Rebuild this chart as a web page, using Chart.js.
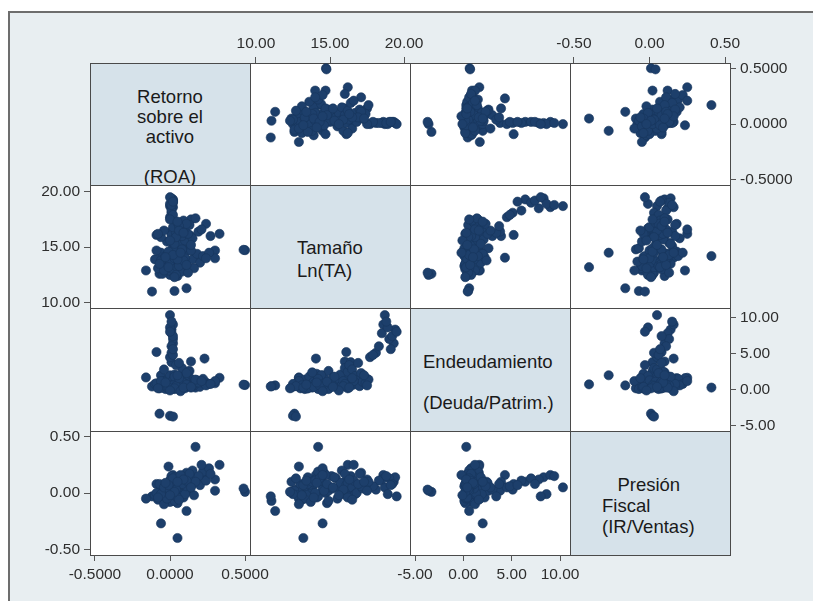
<!DOCTYPE html>
<html>
<head>
<meta charset="utf-8">
<script src="https://cdn.jsdelivr.net/npm/chart.js@4/dist/chart.umd.min.js"></script>
<style>
  body { margin: 0; width: 813px; height: 601px; overflow: hidden; background: #fff;
         font-family: "Liberation Sans", Arial, sans-serif; }
  #frame { position: absolute; left: 8px; top: 11px; width: 900px; height: 700px;
           border: 2px solid #6d6d6d; background: #e8eef1; }
  .cell { position: absolute; box-sizing: border-box; border: 1px solid #4a4a4a; background: #fff; }
  .diag { background: #d6e2ea; }
  .lbl { position: absolute; font-size: 18.5px; line-height: 20px; color: #1a1a1a; white-space: pre; }
  .wrap { position: absolute; }
</style>
</head>
<body>
<div id="frame"></div>
<script>
// one observation per firm, same order in every array
// outliers (24), large firms (14), main cluster (82)
const roa = [
  0.50, 0.49, 0.05, -0.06, 0.17, 0.11, 0.03, -0.12, -0.07, 0.00, 0.02, -0.16, 0.33, 0.30, 0.30, 0.23, 0.24, 0.14, -0.09, -0.01, -0.10, 0.14, 0.01, 0.00,
  0.00, 0.01, 0.02, 0.01, 0.02, 0.01, 0.02, 0.00, 0.02, 0.01, 0.02, 0.00, 0.01, 0.02,
  0.05, -0.05, 0.08, 0.02, -0.08, 0.12, 0.04, -0.02, 0.10, 0.06, 0.00, -0.06, 0.15, 0.03, 0.09, -0.03, 0.07, 0.18, 0.01, 0.11, -0.09, 0.05, 0.13, 0.02, 0.08, 0.20, -0.04, 0.06, 0.10, 0.00, 0.14, 0.04, 0.22, -0.07, 0.07, 0.16, 0.03, 0.09, -0.01, 0.12, 0.26, 0.24,
  0.06, -0.02, 0.10, 0.03, 0.15, -0.06, 0.08, 0.01, 0.12, 0.04, 0.19, -0.04, 0.07, 0.10, 0.02, 0.13, 0.05, 0.09, 0.17, -0.08, 0.27, 0.21, 0.03, 0.11, 0.06, 0.00,
  0.05, 0.02, 0.08, 0.04, -0.01, 0.06, 0.11, 0.03, 0.07, 0.00, 0.09, -0.03, 0.14, 0.05
];
const size = [
  14.73, 14.76, 13.2, 14.5, 14.2, 11.3, 11.05, 11.0, 12.6, 12.5, 12.7, 12.9, 16.2, 14.7, 14.0, 14.05, 17.1, 16.0, 16.1, 12.9, 13.9, 17.5, 16.4, 17.7,
  18.7, 18.1, 19.3, 19.4, 18.6, 18.5, 19.0, 18.9, 19.2, 18.3, 17.9, 19.5, 18.8, 19.1,
  12.4, 12.6, 12.8, 13.0, 13.1, 13.2, 13.3, 13.4, 13.5, 13.6, 13.7, 13.8, 13.9, 14.0, 14.1, 14.2, 14.3, 14.4, 14.5, 14.6, 14.7, 14.8, 14.9, 15.0, 15.1, 13.6, 12.9, 13.3, 14.0, 14.4, 14.7, 12.5, 14.2, 13.5, 15.2, 13.1, 14.9, 13.8, 14.6, 12.7, 14.5, 14.0,
  15.4, 15.5, 15.6, 15.7, 15.8, 15.9, 16.0, 16.1, 16.2, 16.3, 16.4, 16.5, 16.6, 16.7, 16.8, 17.0, 17.2, 17.4, 17.6, 16.2, 16.0, 16.6, 15.3, 17.1, 16.9, 17.5,
  13.9, 14.3, 14.8, 15.9, 13.2, 16.5, 13.4, 12.3, 14.5, 15.6, 16.3, 14.1, 15.2, 17.3
];
const debt = [
  0.65, 0.70, 0.75, 2.0, 0.3, 0.6, 0.5, 0.45, -3.3, -3.6, -3.7, 1.7, 1.65, 0.9, 1.2, 4.3, 1.0, 3.9, 5.2, 1.6, 0.8, 1.5, 3.8, 4.5,
  10.3, 5.1, 6.4, 8.3, 9.0, 7.8, 7.0, 8.6, 7.4, 6.0, 4.8, 8.0, 9.4, 5.6,
  0.3, 0.5, 1.0, 0.2, 0.6, 0.9, 1.4, 0.4, 0.2, 1.8, 0.7, 0.3, 1.1, 0.5, 2.2, 0.1, 0.8, 1.3, 0.4, 1.6, 0.9, 0.2, 2.6, 1.0, 0.6, 0.4, 1.2, 0.1, 0.9, 2.0, 0.3, 0.8, 1.5, 0.2, 1.7, 0.6, 0.1, 2.4, 0.7, 0.5, 0.8, 0.6,
  0.9, 0.3, 1.5, 2.1, 0.6, 1.2, 3.0, 0.4, 2.5, 3.4, 1.0, 2.8, 0.7, 1.9, 1.3, 0.5, 1.1, 0.9, 1.4, 0.2, 0.8, 1.2, 1.8, 2.3, 3.7, 0.6,
  0.4, 0.6, 1.1, 0.5, 0.3, 1.6, 0.7, 0.2, -0.2, -0.1, 0.3, 1.0, 0.4, 2.0
];
const tax = [
  0.01, 0.04, -0.40, -0.27, 0.41, -0.16, -0.07, -0.03, 0.01, 0.02, 0.03, -0.05, 0.25, 0.02, 0.12, 0.16, 0.18, 0.10, 0.08, 0.235, -0.02, 0.12, 0.02, 0.05,
  0.05, 0.03, 0.10, 0.14, 0.16, 0.12, 0.13, -0.01, 0.08, 0.11, 0.06, -0.03, 0.15, 0.07,
  0.10, 0.02, -0.02, 0.08, -0.06, 0.03, -0.05, 0.06, 0.14, 0.01, -0.08, 0.04, 0.08, 0.12, -0.04, -0.03, 0.09, 0.12, 0.03, 0.18, 0.00, -0.09, 0.02, 0.05, 0.15, 0.07, -0.10, 0.06, 0.00, 0.11, 0.16, -0.01, 0.19, 0.08, 0.04, -0.02, -0.07, 0.10, 0.02, 0.13, 0.22, 0.11,
  0.13, -0.05, 0.05, 0.09, 0.20, -0.01, 0.03, 0.07, 0.09, -0.03, 0.15, 0.05, 0.11, -0.01, 0.00, 0.17, 0.04, 0.07, 0.10, -0.04, 0.17, 0.25, 0.14, 0.06, 0.08, 0.02,
  -0.04, 0.13, 0.08, 0.03, 0.07, -0.06, 0.11, 0.01, 0.16, -0.02, 0.12, 0.09, 0.05, 0.10
];

const roaTicks = [-0.5, 0, 0.5];
const sizeTicks = [10, 15, 20];
const debtTicks = [-5, 0, 5, 10];
const taxTicks = [-0.5, 0, 0.5];

const varLabels = [
  ['Retorno', 'sobre el', 'activo', '', '(ROA)'],
  ['Tamaño', 'Ln(TA)'],
  ['Endeudamiento', '', '(Deuda/Patrim.)'],
  ['   Presión', 'Fiscal', '(IR/Ventas)']
];

const vars = [roa, size, debt, tax];
const ticksFor = [roaTicks, sizeTicks, debtTicks, taxTicks];
const decimals = [4, 2, 2, 2];
const xRange = [[-0.533, 0.533], [9.6, 20.4], [-5.52, 11.03], [-0.526, 0.533]];
const yRange = [[-0.545, 0.547], [9.52, 20.6], [-5.69, 11.28], [-0.551, 0.551]];
const xSide = ['bottom', 'top', 'bottom', 'top'];
const ySide = ['right', 'left', 'right', 'left'];

const colX = [90, 250, 410, 570, 730];
const rowY = [63, 185, 308, 431, 555];
const M = 78;
const dotColor = '#1d3f6b';
const tickFont = { family: '"Liberation Sans", Arial, sans-serif', size: 15.5 };

// label placement inside diagonal cells: [align, x, first line center y, line height]
const labelPos = [
  ['center', 170, 97, 20],
  ['left', 297, 248, 23],
  ['left', 423, 362, 20.5],
  ['left', 602, 485, 21]
];

function axisOpts(v, isX, side, showLabels) {
  const range = isX ? xRange[v] : yRange[v];
  const o = {
    type: 'linear',
    position: side,
    min: range[0],
    max: range[1],
    border: { display: false },
    afterFit: s => { if (isX) s.height = M; else s.width = M; }
  };
  if (showLabels) {
    o.afterBuildTicks = s => { s.ticks = ticksFor[v].map(value => ({ value })); };
    o.ticks = {
      display: true, autoSkip: false, maxRotation: 0, padding: 4,
      color: '#2e2e2e', font: tickFont,
      callback: value => Number(value).toFixed(decimals[v])
    };
    o.grid = { display: true, drawOnChartArea: false, drawTicks: true, tickLength: 6, color: '#555', lineWidth: 1 };
  } else {
    o.ticks = { display: false };
    o.grid = { display: false };
  }
  return o;
}

for (let r = 0; r < 4; r++) {
  for (let c = 0; c < 4; c++) {
    const x0 = colX[c], y0 = rowY[r];
    const w = colX[c + 1] - x0, h = rowY[r + 1] - y0;
    const cell = document.createElement('div');
    cell.className = 'cell' + (r === c ? ' diag' : '');
    cell.style.cssText = `left:${x0}px;top:${y0}px;width:${w + 1}px;height:${h + 1}px`;
    document.body.appendChild(cell);

    if (r === c) {
      const [align, lx, ly, lh] = labelPos[r];
      varLabels[r].forEach((line, i) => {
        const d = document.createElement('div');
        d.className = 'lbl';
        d.textContent = line;
        const top = ly + i * lh - 10;
        if (align === 'center') {
          d.style.cssText = `left:${x0}px;width:${w}px;text-align:center;top:${top}px`;
        } else {
          d.style.cssText = `left:${lx}px;top:${top}px`;
        }
        document.body.appendChild(d);
      });
      continue;
    }

    const wrap = document.createElement('div');
    wrap.className = 'wrap';
    wrap.style.cssText = `left:${x0 - M}px;top:${y0 - M}px;width:${w + 2 * M}px;height:${h + 2 * M}px`;
    const cv = document.createElement('canvas');
    cv.width = w + 2 * M;
    cv.height = h + 2 * M;
    wrap.appendChild(cv);
    document.body.appendChild(wrap);

    const xs = xSide[c], ys = ySide[r];
    const showX = (xs === 'bottom' && r === 3) || (xs === 'top' && r === 0);
    const showY = (ys === 'left' && c === 0) || (ys === 'right' && c === 3);

    new Chart(cv, {
      type: 'scatter',
      data: {
        datasets: [{
          data: vars[c].map((v, i) => ({ x: v, y: vars[r][i] })),
          pointRadius: 4.6,
          pointHoverRadius: 4.6,
          backgroundColor: dotColor,
          borderColor: '#17355c',
          borderWidth: 0.6,
          clip: 6
        }]
      },
      options: {
        responsive: false,
        animation: false,
        events: [],
        layout: {
          padding: {
            top: xs === 'top' ? 0 : M,
            bottom: xs === 'bottom' ? 0 : M,
            left: ys === 'left' ? 0 : M,
            right: ys === 'right' ? 0 : M
          }
        },
        plugins: { legend: { display: false }, tooltip: { enabled: false } },
        scales: {
          x: axisOpts(c, true, xs, showX),
          y: axisOpts(r, false, ys, showY)
        }
      }
    });
  }
}
</script>
</body>
</html>
